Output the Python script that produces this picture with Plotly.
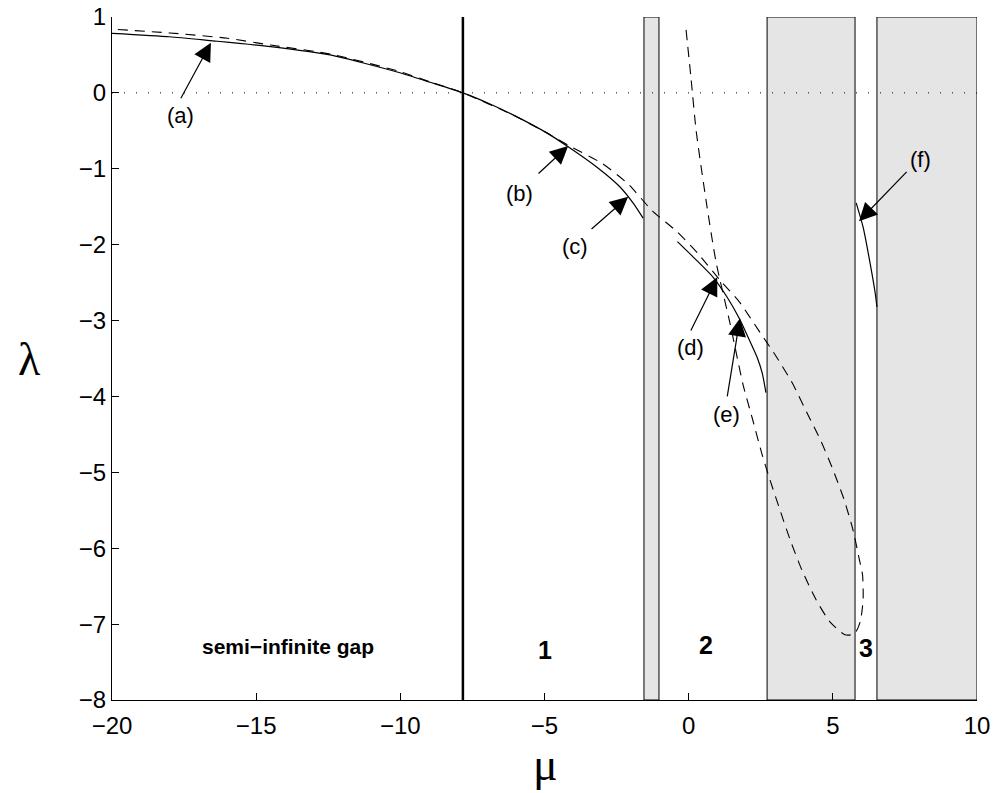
import plotly.graph_objects as go

# ---- data ----
# main solid branch (semi-infinite gap and gap 1)
solid1_mu = [-20, -18.0, -16.6, -14.5, -12.44, -10.11, -8.97, -7.83, -6.89, -6.09, -4.91, -4.18, -3.18, -2.38, -1.93, -1.58]
solid1_lam = [0.785, 0.74, 0.69, 0.61, 0.50, 0.275, 0.14, 0.0, -0.146, -0.29, -0.53, -0.71, -0.98, -1.24, -1.45, -1.65]

# solid branch in gap 2
solid2_mu = [-0.39, 0.15, 0.85, 1.33, 1.78, 2.06, 2.37, 2.55, 2.68]
solid2_lam = [-1.96, -2.16, -2.43, -2.69, -2.99, -3.22, -3.48, -3.69, -3.95]

# solid branch in gap 3
solid3_mu = [5.81, 6.05, 6.29, 6.47, 6.53]
solid3_lam = [-1.45, -1.77, -2.24, -2.64, -2.82]

# dashed curve (approximation)
dash_mu = [-0.09, 0.08, 0.26, 0.60, 0.95, 1.43, 1.89, 2.23, 2.55, 2.82, 3.17, 3.52, 3.93, 4.42, 4.90,
           5.42, 5.75, 5.95, 6.05, 6.03, 5.92, 5.70, 5.39, 5.01, 4.59, 4.11, 3.59, 3.03, 2.41, 1.75,
           1.09, 0.33, -0.40, -1.27, -2.10, -3.0, -4.18, -5.0, -6.1, -7.83, -9.0, -10.1, -12.4, -14.5,
           -16.0, -18.0, -20.0]
dash_lam = [0.83, 0.20, -0.50, -1.41, -2.23, -3.03, -3.85, -4.32, -4.77, -5.10, -5.50, -5.89, -6.29, -6.68, -6.97,
            -7.14, -7.13, -6.97, -6.68, -6.35, -6.15, -5.76, -5.36, -4.97, -4.59, -4.22, -3.82, -3.47, -3.12, -2.75,
            -2.47, -2.12, -1.83, -1.55, -1.20, -0.93, -0.69, -0.51, -0.29, 0.0, 0.15, 0.29, 0.51, 0.63,
            0.72, 0.79, 0.84]

# bands (grey regions)
band_lo = [-1.55, 2.72, 6.53]
band_hi = [-1.03, 5.77, 10.0]

# edge of the semi-infinite gap
edge_mu = -7.83

# annotations: label, text pos, arrow tail, arrow tip
ann_labels = ["(a)", "(b)", "(c)", "(d)", "(e)", "(f)"]
ann_text_mu = [-17.64, -5.88, -3.94, 0.05, 1.30, 8.03]
ann_text_lam = [-0.30, -1.32, -2.03, -3.36, -4.24, -0.88]
ann_tail_mu = [-17.64, -5.26, -3.42, 0.05, 1.33, 7.61]
ann_tail_lam = [-0.09, -1.08, -1.81, -3.15, -4.02, -1.02]
ann_tip_mu = [-16.57, -4.18, -2.10, 0.99, 1.78, 5.91]
ann_tip_lam = [0.66, -0.70, -1.37, -2.43, -2.97, -1.69]

gap_labels = ["semi\u2212infinite gap", "1", "2", "3"]
gap_label_mu = [-13.9, -4.98, 0.60, 6.15]
gap_label_lam = [-7.30, -7.34, -7.27, -7.31]
gap_label_size = [21, 25, 25, 25]

xticks = [-20, -15, -10, -5, 0, 5, 10]
yticks = [1, 0, -1, -2, -3, -4, -5, -6, -7, -8]

# ---- figure ----
fig = go.Figure()

shapes = []
for lo, hi in zip(band_lo, band_hi):
    shapes.append(dict(type="rect", xref="x", yref="y", x0=lo, x1=hi, y0=-8, y1=1,
                       fillcolor="#e5e5e5", line=dict(color="black", width=1), layer="below"))
# zero dotted line
shapes.append(dict(type="line", xref="x", yref="y", x0=-20, x1=10, y0=0, y1=0,
                   line=dict(color="black", width=1, dash="1px,11px"), layer="above"))
# semi-infinite gap edge
shapes.append(dict(type="line", xref="x", yref="y", x0=edge_mu, x1=edge_mu, y0=-8, y1=1,
                   line=dict(color="black", width=2.5), layer="above"))

for mu, lam in [(solid1_mu, solid1_lam), (solid2_mu, solid2_lam), (solid3_mu, solid3_lam)]:
    fig.add_trace(go.Scatter(x=mu, y=lam, mode="lines",
                             line=dict(color="black", width=1.2, shape="spline", smoothing=0.6),
                             showlegend=False, hoverinfo="skip"))
fig.add_trace(go.Scatter(x=dash_mu, y=dash_lam, mode="lines",
                         line=dict(color="black", width=1.1, dash="10px,7px", shape="spline", smoothing=0.6),
                         showlegend=False, hoverinfo="skip"))

annotations = []
for lab, tx, ty, ax_, ay_, hx, hy in zip(ann_labels, ann_text_mu, ann_text_lam, ann_tail_mu, ann_tail_lam,
                                          ann_tip_mu, ann_tip_lam):
    annotations.append(dict(x=hx, y=hy, ax=ax_, ay=ay_, xref="x", yref="y", axref="x", ayref="y",
                            text="", showarrow=True, arrowhead=2, arrowsize=3.0, arrowwidth=1.2,
                            arrowcolor="black", standoff=0, startstandoff=0))
    annotations.append(dict(x=tx, y=ty, xref="x", yref="y", text=lab, showarrow=False,
                            font=dict(family="Liberation Sans, Arial, sans-serif", size=22, color="black")))
for lab, gx, gy, gs in zip(gap_labels, gap_label_mu, gap_label_lam, gap_label_size):
    annotations.append(dict(x=gx, y=gy, xref="x", yref="y", text="<b>" + lab + "</b>", showarrow=False,
                            font=dict(family="Liberation Sans, Arial, sans-serif", size=gs, color="black")))
# axis titles
annotations.append(dict(x=-4.98, y=-0.095, xref="x", yref="paper", text="\u03bc", showarrow=False,
                        font=dict(family="Liberation Serif, DejaVu Serif, serif", size=46, color="black"),
                        yanchor="middle"))
annotations.append(dict(x=-0.095, y=0.498, xref="paper", yref="paper", text="\u03bb", showarrow=False,
                        font=dict(family="Liberation Serif, DejaVu Serif, serif", size=46, color="black"),
                        xanchor="center", yanchor="middle"))

fig.update_layout(
    width=996, height=793,
    margin=dict(l=112, r=19, t=17, b=93, autoexpand=False),
    paper_bgcolor="white", plot_bgcolor="white",
    shapes=shapes, annotations=annotations,
    showlegend=False,
    font=dict(family="Liberation Sans, Arial, sans-serif", size=24, color="black"),
)
fig.update_xaxes(range=[-20, 10], tickvals=xticks,
                 ticktext=[str(v).replace("-", "\u2212") for v in xticks],
                 showgrid=False, zeroline=False, showline=True, linecolor="black", linewidth=1,
                 ticks="inside", ticklen=7, tickcolor="black", mirror=False, automargin=False,
                 ticklabelstandoff=4)
fig.update_yaxes(range=[-8, 1], tickvals=yticks,
                 ticktext=[str(v).replace("-", "\u2212") for v in yticks],
                 showgrid=False, zeroline=False, showline=True, linecolor="black", linewidth=1,
                 ticks="inside", ticklen=7, tickcolor="black", mirror=False, automargin=False)

fig.write_html("out.html")
